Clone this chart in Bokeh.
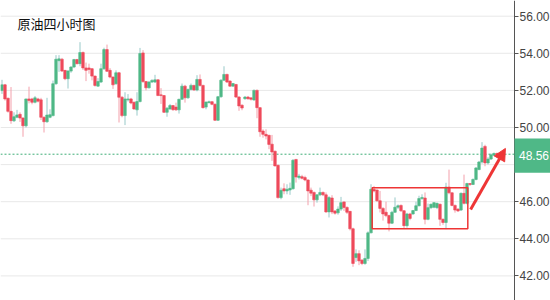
from bokeh.plotting import figure
from bokeh.models import (ColumnDataSource, FixedTicker, NumeralTickFormatter,
                          Label, Arrow, NormalHead, BoxAnnotation)
from bokeh.core.properties import value
from bokeh.embed import file_html
from bokeh.resources import INLINE

# ---- data (4-hour candles) ----
opens = [51.99, 52.30, 51.58, 50.87, 50.36, 50.55, 50.71, 50.51, 50.09, 51.54,
         51.54, 51.36, 51.54, 51.49, 50.55, 50.31, 50.55, 50.64, 52.36, 53.60,
         53.68, 53.08, 52.63, 53.04, 53.26, 53.66, 53.44, 54.04, 53.21, 53.21,
         53.17, 52.77, 52.23, 52.45, 53.17, 54.20, 53.08, 52.72, 52.36, 52.95,
         51.63, 50.64, 51.49, 51.54, 51.36, 50.95, 51.40, 54.02, 52.48, 52.14,
         52.45, 52.45, 52.57, 51.76, 51.72, 50.82, 51.00, 51.18, 51.10, 50.95,
         51.52, 52.23, 51.60, 52.05, 52.27, 52.02, 52.59, 52.27, 51.10, 51.34,
         51.39, 51.25, 50.39, 51.66, 52.55, 52.86, 52.50, 52.23, 52.32, 51.64,
         51.20, 51.55, 51.64, 51.60, 51.48, 52.00, 51.07, 49.81, 49.63, 49.58,
         49.10, 48.72, 47.96, 46.22, 46.70, 46.58, 46.63, 46.70, 48.28, 47.30,
         47.35, 47.30, 47.17, 46.62, 46.50, 46.10, 46.37, 46.50, 46.37, 45.45,
         46.20, 45.50, 45.40, 45.60, 45.99, 45.69, 45.48, 44.54, 42.99, 43.20,
         42.85, 42.67, 42.94, 44.32, 46.67, 46.63, 46.05, 45.64, 45.43, 45.25,
         44.84, 45.43, 45.70, 45.80, 45.51, 44.71, 45.34, 45.34, 45.52, 45.78,
         46.17, 46.20, 45.05, 45.68, 45.70, 45.68, 45.86, 45.05, 44.88, 46.79,
         46.48, 45.80, 45.60, 45.55, 46.45, 45.91, 46.98, 46.93, 47.20, 47.73,
         48.14, 48.98, 48.09, 48.30, 48.50, 48.60]
highs = [52.57, 52.35, 51.60, 52.18, 50.82, 50.95, 50.82, 50.55, 51.55, 52.20,
         51.60, 51.70, 51.60, 51.60, 50.60, 51.60, 50.98, 52.53, 53.90, 53.90,
         53.75, 53.10, 53.10, 53.30, 53.70, 53.70, 54.60, 54.10, 53.50, 53.44,
         53.20, 52.80, 52.66, 53.44, 54.30, 54.47, 53.20, 52.75, 53.08, 53.00,
         51.70, 51.90, 51.80, 51.60, 51.40, 51.90, 54.29, 54.17, 52.50, 52.50,
         52.60, 52.84, 52.60, 52.12, 51.75, 51.10, 51.27, 51.20, 51.34, 51.55,
         52.37, 52.30, 52.10, 52.37, 52.30, 52.82, 52.86, 52.30, 51.40, 51.45,
         51.42, 51.30, 51.70, 52.60, 53.30, 52.90, 52.55, 52.40, 52.35, 51.70,
         51.25, 51.70, 51.70, 51.60, 52.05, 52.05, 51.10, 49.90, 49.90, 49.60,
         49.60, 48.75, 48.00, 46.76, 46.99, 46.94, 47.03, 48.30, 48.30, 47.50,
         47.45, 47.40, 47.20, 46.76, 46.55, 46.40, 46.76, 46.55, 46.50, 46.30,
         46.35, 45.55, 45.75, 46.26, 46.00, 45.75, 45.50, 44.60, 43.43, 43.38,
         42.90, 43.43, 44.40, 46.94, 46.85, 46.65, 46.58, 45.70, 46.00, 45.30,
         45.51, 46.23, 45.85, 45.85, 45.55, 45.40, 45.40, 45.55, 46.00, 46.32,
         46.40, 46.50, 45.90, 45.90, 45.97, 45.95, 45.90, 45.10, 47.02, 47.73,
         46.50, 45.85, 45.65, 46.50, 47.46, 47.02, 47.00, 47.25, 47.86, 48.20,
         49.21, 49.07, 48.40, 48.60, 48.65, 48.65]
lows = [51.81, 51.45, 50.80, 50.20, 50.30, 50.50, 50.30, 49.50, 50.00, 51.30,
        51.25, 51.30, 51.35, 50.40, 49.73, 50.25, 50.50, 50.60, 52.30, 53.00,
        53.00, 52.55, 52.10, 52.95, 53.20, 53.40, 53.30, 53.10, 52.50, 52.90,
        52.54, 52.20, 52.20, 52.40, 53.10, 53.00, 52.65, 52.08, 52.30, 50.27,
        50.55, 50.13, 51.40, 51.25, 50.95, 50.64, 51.35, 52.40, 52.00, 52.10,
        52.40, 52.40, 51.70, 51.27, 50.78, 50.58, 50.95, 50.90, 50.90, 50.75,
        51.50, 51.34, 51.55, 52.00, 51.98, 51.95, 52.20, 51.02, 50.98, 51.30,
        51.20, 50.35, 50.35, 51.60, 52.50, 52.40, 52.20, 52.20, 51.60, 50.90,
        50.93, 51.50, 51.50, 51.45, 51.45, 50.50, 49.50, 49.45, 49.36, 48.83,
        48.20, 47.90, 46.17, 46.13, 46.40, 46.40, 46.37, 46.65, 47.03, 47.20,
        47.20, 47.10, 45.81, 46.30, 45.74, 45.95, 46.30, 46.30, 45.40, 45.15,
        45.33, 45.30, 45.30, 45.50, 45.50, 45.34, 44.45, 42.49, 42.76, 42.58,
        42.58, 42.60, 42.80, 44.30, 46.50, 46.00, 45.42, 44.98, 45.16, 44.40,
        44.80, 45.40, 45.60, 45.45, 44.54, 44.60, 45.00, 45.30, 45.50, 45.75,
        46.10, 44.78, 45.00, 45.60, 45.65, 45.60, 44.70, 44.75, 44.52, 46.40,
        45.75, 45.41, 45.45, 45.50, 45.85, 45.85, 46.85, 46.90, 47.15, 47.70,
        48.05, 47.91, 48.00, 48.25, 48.45, 48.45]
closes = [52.30, 51.54, 50.87, 50.37, 50.58, 50.68, 50.51, 50.09, 51.54, 51.45,
          51.36, 51.60, 51.42, 50.55, 50.31, 50.67, 50.69, 52.36, 53.68, 53.70,
          53.04, 52.63, 53.04, 53.26, 53.66, 53.44, 54.04, 53.21, 53.08, 53.13,
          52.77, 52.27, 52.48, 53.17, 54.20, 53.03, 52.72, 52.30, 52.95, 51.63,
          50.64, 51.54, 51.54, 51.32, 51.00, 51.40, 53.99, 52.48, 52.14, 52.45,
          52.54, 52.57, 51.72, 51.72, 50.82, 51.04, 51.18, 50.96, 50.95, 51.52,
          52.23, 51.60, 52.05, 52.27, 52.02, 52.59, 52.27, 51.07, 51.37, 51.39,
          51.25, 50.39, 51.66, 52.55, 52.86, 52.45, 52.23, 52.37, 51.64, 51.16,
          51.05, 51.64, 51.55, 51.52, 52.00, 51.07, 49.77, 49.63, 49.54, 49.09,
          48.68, 47.93, 46.22, 46.62, 46.58, 46.67, 46.72, 48.23, 47.33, 47.38,
          47.26, 47.17, 46.58, 46.46, 46.10, 46.37, 46.50, 46.37, 45.45, 46.22,
          45.45, 45.38, 45.60, 45.95, 45.69, 45.43, 44.54, 42.67, 43.20, 42.81,
          42.67, 42.94, 44.32, 46.67, 46.58, 46.05, 45.64, 45.34, 45.25, 44.84,
          45.43, 45.70, 45.78, 45.51, 44.71, 45.34, 45.10, 45.52, 45.78, 46.17,
          46.23, 45.05, 45.68, 45.86, 45.95, 45.91, 45.05, 44.88, 46.79, 46.48,
          45.80, 45.55, 45.50, 46.45, 45.91, 46.98, 46.93, 47.20, 47.82, 48.14,
          48.89, 48.09, 48.30, 48.53, 48.60, 48.56]
y_ticks = [42, 44, 46, 48, 50, 52, 54, 56]
last_price = 48.56
title_text = "原油四小时图"

# ---- styling ----
GREEN = "#4fb887"
RED = "#ee4a5b"
GREEN_WICK = "#98c9c9"
RED_WICK = "#f3a0ab"
ANNOT_RED = "#ee3535"
GRID = "#e8e8e8"

n = len(opens)
idx = list(range(n))
is_up = [c >= o for o, c in zip(opens, closes)]
src = ColumnDataSource(dict(
    x=idx, open=opens, high=highs, low=lows, close=closes,
    top=[max(o, c) for o, c in zip(opens, closes)],
    bottom=[min(o, c) for o, c in zip(opens, closes)],
    body=[GREEN if u else RED for u in is_up],
    wick=[GREEN_WICK if u else RED_WICK for u in is_up],
))

PX = 3.0            # pixels per candle
W, H = 550, 300
AXIS_PX = 514       # where the price axis sits
x_start = -0.5
x_stop = x_start + W / PX
axis_x = x_start + AXIS_PX / PX
PX_Y = 18.55 / 2.0  # pixels per price unit (approx, layout only)

p = figure(frame_width=W, frame_height=H, output_backend="svg", toolbar_location=None,
           x_range=(x_start, x_stop), y_range=(40.674, 56.846),
           x_axis_location=None, y_axis_location="right", min_border=0,
           background_fill_color="white", border_fill_color="white")
p.outline_line_color = None
p.xgrid.visible = False
p.ygrid.visible = False

ax = p.yaxis[0]
ax.fixed_location = axis_x
ax.ticker = FixedTicker(ticks=y_ticks)
ax.formatter = NumeralTickFormatter(format="0.00")
ax.axis_line_color = "#555555"
ax.major_tick_line_color = "#555555"
ax.major_tick_in = 0
ax.major_tick_out = 4
ax.minor_tick_line_color = None
ax.major_label_standoff = 1
ax.major_label_text_font = "Liberation Sans"
ax.major_label_text_font_size = "12px"
ax.major_label_text_color = "#444444"

# horizontal grid lines, stopping at the axis
p.segment(x0=[x_start] * len(y_ticks), y0=y_ticks, x1=[axis_x] * len(y_ticks), y1=y_ticks,
          line_color=GRID, line_width=1)

# last-price dashed line
p.segment(x0=[x_start], y0=[last_price], x1=[axis_x], y1=[last_price],
          line_color="#3fae78", line_dash="2 2", line_width=1)

# candles
p.segment(x0="x", y0="low", x1="x", y1="high", color="wick", line_width=1, source=src)
p.vbar(x="x", top="top", bottom="bottom", width=0.85, fill_color="body",
       line_color="body", line_width=0.6, source=src)

# consolidation box
p.add_layout(BoxAnnotation(left=123.4, right=155.27, top=46.75, bottom=44.54,
                           fill_alpha=0, line_alpha=1, line_color=ANNOT_RED, line_width=1.5))

# arrow
p.add_layout(Arrow(end=NormalHead(size=12, fill_color=ANNOT_RED, line_color=ANNOT_RED),
                   x_start=156.2, y_start=45.58, x_end=167.8, y_end=48.87,
                   line_color=ANNOT_RED, line_width=3))

# title text
p.add_layout(Label(x=5.17, y=55.63, text=title_text, text_font="Noto Sans CJK SC",
                   text_font_size="13px", text_color="#111111", text_baseline="middle"))

# last price tag, drawn above the axis
p.quad(left=[axis_x], right=[x_stop], bottom=[last_price - 9.3 / PX_Y],
       top=[last_price + 7.8 / PX_Y], fill_color=GREEN, line_color=None, level="overlay")
p.text(x=[axis_x + 4.5 / PX], y=[last_price - 0.05], text=[f"{last_price:.2f}"],
       text_font=value("Liberation Sans"), text_font_size="12px", text_color="white",
       text_baseline="middle", text_align="left", level="overlay")

open("out.html", "w").write(file_html(p, INLINE))
